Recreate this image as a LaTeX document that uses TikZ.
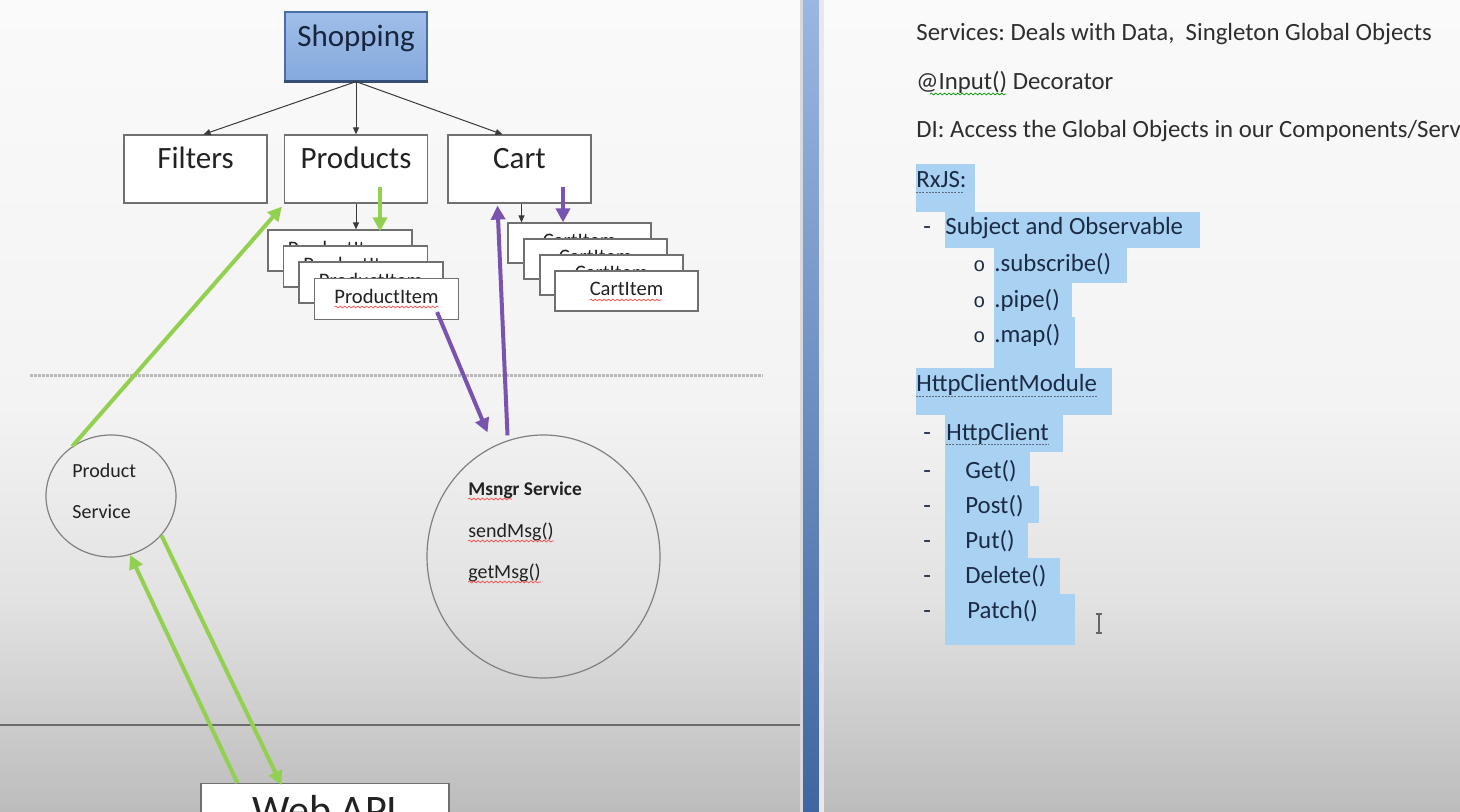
\documentclass[tikz,border=0pt]{standalone}
\usepackage{fontspec}
\setmainfont{Carlito}
\newfontfamily\bulfont{Liberation Mono}
\usetikzlibrary{arrows.meta,calc,shapes.geometric,decorations.pathmorphing}

\definecolor{bgtop}{HTML}{FAFAFA}
\definecolor{bgup}{HTML}{F3F3F3}
\definecolor{bgmid}{HTML}{E2E2E2}
\definecolor{bgbot}{HTML}{BCBCBC}
\definecolor{gr}{HTML}{92D050}
\definecolor{pu}{HTML}{7853B0}
\definecolor{hl}{HTML}{A9D2F2}
\definecolor{boxline}{HTML}{707070}
\definecolor{circline}{HTML}{808080}
\definecolor{arrline}{HTML}{3A3A3A}
\definecolor{txt}{HTML}{222222}
\definecolor{rtxt}{HTML}{2E2E2E}
\definecolor{hltxt}{HTML}{1C2B45}
\definecolor{shtop}{HTML}{A0BEE8}
\definecolor{shmid}{HTML}{6390CD}
\definecolor{shbot}{HTML}{84A9DD}
\definecolor{shline}{HTML}{4A6FA8}
\definecolor{shtxt}{HTML}{17253D}
\definecolor{divtop}{HTML}{9AB6E2}
\definecolor{divbot}{HTML}{3F66A0}

\pgfdeclareverticalshading{bgshade}{100bp}{color(0bp)=(bgbot); color(25bp)=(bgbot); color(38bp)=(bgmid); color(50bp)=(bgup); color(75bp)=(bgtop); color(100bp)=(bgtop)}

\frenchspacing
\begin{document}
\begin{tikzpicture}[x=0.5pt,y=-0.5pt,
  box/.style={draw=boxline, line width=0.6pt, fill=white, inner sep=0pt,
    minimum width=71.5pt, minimum height=34pt, text height=9pt, text depth=9pt,
    font=\fontsize{15.5}{18}\selectfont, text=txt},
  itembox/.style={draw=boxline, line width=0.6pt, fill=white, inner sep=0pt,
    minimum width=72pt, minimum height=20.5pt, text height=7pt, text depth=2pt,
    font=\fontsize{10.3}{12}\selectfont, text=txt},
  svc/.style={ellipse, draw=circline, line width=0.6pt, inner sep=0pt},
  svctext/.style={anchor=base west, inner sep=0pt, font=\fontsize{10}{12}\selectfont, text=txt},
  treearr/.style={draw=arrline, line width=0.5pt, -{Triangle[length=3.5pt,width=3pt]}},
  grarr/.style={draw=gr, line width=2pt, -{Triangle[length=7pt,width=7pt]}},
  puarr/.style={draw=pu, line width=2pt, -{Triangle[length=7pt,width=7pt]}},
  rtext/.style={anchor=base west, inner sep=0pt, font=\fontsize{12.4}{14}\selectfont, text=rtxt},
  htext/.style={rtext, text=hltxt},
  bul/.style={anchor=base west, inner sep=0pt, font=\bulfont\fontsize{10}{12}\selectfont, text=hltxt},
  hlbox/.style={fill=hl},
  redsq/.style={draw=red!70!white, line width=0.35pt, decorate,
    decoration={snake, amplitude=0.45pt, segment length=2.2pt}},
  grsq/.style={draw=green!60!black, line width=0.35pt, decorate,
    decoration={snake, amplitude=0.45pt, segment length=2.2pt}},
  hlul/.style={draw=hltxt!70, line width=0.4pt, dash pattern=on 1pt off 0.6pt},
]
\useasboundingbox (0,0) rectangle (1460,812);
\clip (0,0) rectangle (1460,812);

% background
\shade[shading=bgshade] (0,0) rectangle (1460,812);

% separators
\draw[draw=gray!55, line width=1.5pt, dash pattern=on 1.5pt off 0.5pt] (30,375) -- (763,375);
\draw[draw=gray!85!black, line width=1pt] (0,725) -- (803,725);

% divider bar
\fill[gray!30] (800,0) rectangle (803,812);
\shade[top color=divtop, bottom color=divbot] (803,0) rectangle (819,812);
\fill[gray!18] (819,0) rectangle (824,812);

% tree
\node[box, minimum width=71pt, minimum height=34.5pt, top color=shtop, middle color=shmid,
      bottom color=shbot, draw=shline, text=shtxt] (Shopping) at (356,46.5) {Shopping};
\draw[draw=shline!70!black, line width=1.2pt] (Shopping.south west) -- (Shopping.south east);
\node[box] (Filters) at (195.5,169) {Filters};
\node[box] (Products) at (356,169) {Products};
\node[box] (Cart) at (519.5,169) {Cart};

\draw[treearr] (Shopping.south) -- ($(Filters.north)+(8,0)$);
\draw[treearr] (Shopping.south) -- (Products.north);
\draw[treearr] (Shopping.south) -- ($(Cart.north)+(-17,0)$);

% product items
\node[itembox] (pi1) at (340,250.5) {ProductItem};
\node[itembox] (pi2) at (355.5,266.5) {ProductItem};
\node[itembox] (pi3) at (371,282.5) {ProductItem};
\node[itembox] (pi4) at (386.5,299) {ProductItem};
\draw[redsq] ($(pi4.center)+(-52,8)$) -- ++(104,0);

% cart items
\node[itembox, minimum width=71.5pt, minimum height=20pt] (ci1) at (579.5,243) {CartItem};
\node[itembox, minimum width=71.5pt, minimum height=20pt] (ci2) at (595.5,259) {CartItem};
\node[itembox, minimum width=71.5pt, minimum height=20pt] (ci3) at (611.5,275) {CartItem};
\node[itembox, minimum width=71.5pt, minimum height=20pt] (ci4) at (626.5,291) {CartItem};
\draw[redsq] ($(ci4.center)+(-37,9)$) -- ++(72,0);

\draw[treearr] (Products.south) -- (Products.south |- pi1.north);
\draw[treearr] ($(Cart.south)+(2,0)$) -- ($(Cart.south |- ci1.north)+(2,0)$);

% services
\node[svc, minimum width=65pt, minimum height=61pt] (PS) at (111,496) {};
\node[svctext] (ps1) at (72,477) {Product};
\node[svctext] (ps2) at (72,518) {Service};

\node[svc, minimum width=116.5pt, minimum height=121.5pt] (Msngr) at (543.5,556.5) {};
\node[svctext, font=\bfseries\fontsize{9.7}{12}\selectfont] (ms1) at (468,495) {Msngr Service};
\node[svctext] (ms2) at (468,537) {sendMsg()};
\node[svctext] (ms3) at (468,578) {getMsg()};
\draw[redsq] ($(ms1.base west)+(0,4)$) -- ++(44,0);
\draw[redsq] ($(ms2.base west)+(0,4)$) -- ($(ms2.base east)+(0,4)$);
\draw[redsq] ($(ms3.base west)+(0,4)$) -- ($(ms3.base east)+(0,4)$);

% web api
\node[box, anchor=north, minimum width=124pt, minimum height=41pt,
      text height=12pt, text depth=12pt, font=\fontsize{21}{24}\selectfont] (WebAPI) at (325,783) {Web API};

% coloured arrows
\coordinate (gs) at (380,187);
\draw[grarr] (gs) -- ($(gs |- pi1.north)+(0,2)$);
\coordinate (ps) at (563,187);
\draw[puarr] (ps) -- ($(ps |- ci1.north)+(0,0)$);

\draw[grarr] (PS.128) -- ($(Products.south west)+(-2,3)$);
\draw[puarr] ($(pi4.south east)+(-22,-8)$) -- ($(Msngr.north)+(-56,-2)$);
\draw[puarr] ($(Msngr.north)+(-36,1)$) -- ($(Cart.south)+(-22,2)$);
\draw[grarr] ($(WebAPI.north west)+(37,0)$) -- (PS.288);
\draw[grarr] (PS.322) -- ($(WebAPI.north west)+(81,2)$);

% right side highlights
\fill[hlbox] (916,164) rectangle (975,212);
\fill[hlbox] (945,212) rectangle (1200,248);
\fill[hlbox] (994,247) rectangle (1127,283);
\fill[hlbox] (994,282) rectangle (1072,318);
\fill[hlbox] (994,317) rectangle (1075,369);
\fill[hlbox] (916,368) rectangle (1112,415);
\fill[hlbox] (945,414) rectangle (1063,452);
\fill[hlbox] (945,451) rectangle (1030,487);
\fill[hlbox] (945,486) rectangle (1039,523);
\fill[hlbox] (945,522) rectangle (1028,559);
\fill[hlbox] (945,558) rectangle (1060,595);
\fill[hlbox] (945,594) rectangle (1075,645);

% right side text
\node[rtext] (r1) at (916,41) {Services: Deals with Data,\ \ Singleton Global Objects};
\node[rtext] (r2) at (916,90) {@Input() Decorator};
\draw[grsq] ($(r2.base west)+(14,4)$) -- ++(76,0);
\node[rtext] (r3) at (916,138) {DI: Access the Global Objects in our Components/Serv};
\node[htext] (r4) at (916,188) {RxJS:};
\draw[hlul] ($(r4.base west)+(0,4)$) -- ($(r4.base east)+(-4,4)$);
\node[htext] (d5) at (923,235) {-};
\node[htext] (r5) at (945,235) {Subject and Observable};
\node[bul] (b6) at (973,272) {o};
\node[htext] (r6) at (994,272) {.subscribe()};
\node[bul] (b7) at (973,308) {o};
\node[htext] (r7) at (994,308) {.pipe()};
\node[bul] (b8) at (973,343) {o};
\node[htext] (r8) at (994,343) {.map()};
\node[htext] (r9) at (916,392) {HttpClientModule};
\draw[hlul] ($(r9.base west)+(0,4)$) -- ($(r9.base east)+(0,4)$);
\node[htext] (d10) at (923,440) {-};
\node[htext] (r10) at (946,440) {HttpClient};
\draw[hlul] ($(r10.base west)+(0,4)$) -- ($(r10.base east)+(0,4)$);
\node[htext] (d11) at (923,478) {-};
\node[htext] (r11) at (965,478) {Get()};
\node[htext] (d12) at (923,513) {-};
\node[htext] (r12) at (965,513) {Post()};
\node[htext] (d13) at (923,548) {-};
\node[htext] (r13) at (965,548) {Put()};
\node[htext] (d14) at (923,583) {-};
\node[htext] (r14) at (965,583) {Delete()};
\node[htext] (d15) at (923,618) {-};
\node[htext] (r15) at (967,618) {Patch()};

% text cursor
\draw[draw=gray!80!black, line width=0.8pt] (1099,614) -- (1099,633)
  (1096,614) -- (1102,614) (1096,633) -- (1102,633);
\end{tikzpicture}
\end{document}
